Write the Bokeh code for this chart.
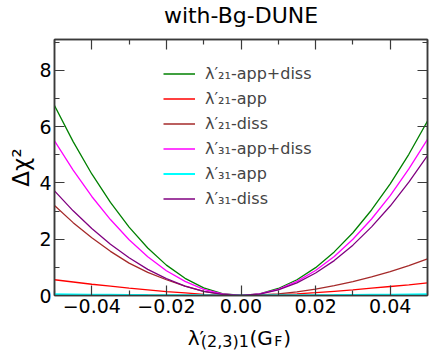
from bokeh.plotting import figure
from bokeh.layouts import column
from bokeh.models import (Range1d, FixedTicker, LinearAxis, Legend, LegendItem, Label,
                          CustomLabelingPolicy)
from bokeh.embed import file_html
from bokeh.resources import INLINE

# ---- data ----
x_vals = [-0.05, -0.045, -0.04, -0.035, -0.03, -0.025, -0.02, -0.015, -0.01, -0.005, 0.0,
          0.005, 0.01, 0.015, 0.02, 0.025, 0.03, 0.035, 0.04, 0.045, 0.05]
l21_app_diss = [6.75, 5.47, 4.32, 3.31, 2.43, 1.69, 1.08, 0.61, 0.27, 0.07, 0.0,
                0.06, 0.25, 0.56, 0.99, 1.55, 2.23, 3.04, 3.97, 5.02, 6.20]
l21_app = [0.56, 0.48, 0.40, 0.33, 0.26, 0.20, 0.14, 0.09, 0.04, 0.01, 0.0,
           0.01, 0.03, 0.06, 0.10, 0.15, 0.20, 0.26, 0.32, 0.38, 0.45]
l21_diss = [3.20, 2.59, 2.05, 1.57, 1.15, 0.82, 0.56, 0.33, 0.15, 0.04, 0.0,
            0.02, 0.06, 0.13, 0.23, 0.35, 0.49, 0.66, 0.85, 1.06, 1.30]
l31_app_diss = [5.50, 4.46, 3.52, 2.70, 1.98, 1.38, 0.88, 0.50, 0.22, 0.055, 0.0,
                0.056, 0.22, 0.50, 0.89, 1.39, 2.00, 2.72, 3.55, 4.50, 5.55]
l31_app = [0.04, 0.033, 0.026, 0.02, 0.015, 0.01, 0.006, 0.003, 0.002, 0.0, 0.0,
           0.0, 0.002, 0.003, 0.006, 0.01, 0.015, 0.02, 0.026, 0.033, 0.04]
l31_diss = [3.72, 3.01, 2.38, 1.82, 1.34, 0.93, 0.60, 0.33, 0.15, 0.04, 0.0,
            0.05, 0.20, 0.45, 0.80, 1.24, 1.79, 2.44, 3.18, 4.03, 4.97]

series_labels = ["λ′₂₁-app+diss", "λ′₂₁-app", "λ′₂₁-diss",
                 "λ′₃₁-app+diss", "λ′₃₁-app", "λ′₃₁-diss"]

x_major_ticks = [-0.04, -0.02, 0.0, 0.02, 0.04]
x_minor_ticks = [-0.05, -0.03, -0.01, 0.01, 0.03, 0.05]
x_tick_labels = ["−0.04", "−0.02", "0.00", "0.02", "0.04"]
y_major_ticks = [0, 2, 4, 6, 8]
y_minor_ticks = [1, 3, 5, 7, 9]
y_tick_labels = ["0", "2", "4", "6", "8"]

title_text = "with-Bg-DUNE"
ylabel_text = "Δχ²"
# x label  λ'_{(2,3)1}(G_F) as (text, is_subscript) pieces
xlabel_pieces = [("λ′", False), ("(2,3)1", True), ("(G", False), ("F", True), (")", False)]

FONT = "DejaVu Sans"
AX = "#3a3a3a"

p = figure(width=436, height=320, output_backend="svg", toolbar_location=None,
           x_range=Range1d(-0.05, 0.05), y_range=Range1d(0, 9.1),
           min_border_left=54, min_border_right=7, min_border_top=30, min_border_bottom=25)
p.background_fill_color = "white"
p.border_fill_color = "white"
p.outline_line_color = AX
p.outline_line_width = 1.5
p.grid.visible = False

p.title.text = title_text
p.title.text_font = FONT
p.title.text_font_size = "22px"
p.title.text_font_style = "normal"
p.title.text_color = "black"
p.title.align = "center"
p.title.standoff = 1


def style_axis(ax, labels=True):
    ax.axis_line_color = AX
    ax.axis_line_width = 1.5
    ax.major_tick_line_color = AX
    ax.minor_tick_line_color = AX
    ax.major_tick_line_width = 1.2
    ax.minor_tick_line_width = 1.2
    ax.major_tick_in = 10
    ax.major_tick_out = 0
    ax.minor_tick_in = 5
    ax.minor_tick_out = 0
    if labels:
        ax.major_label_text_font = FONT
        ax.major_label_text_font_size = "19px"
        ax.major_label_text_color = "black"
        ax.major_label_standoff = 3
    else:
        ax.major_label_standoff = 0
        ax.major_label_policy = CustomLabelingPolicy(
            code="for (const i of indices) { indices.unset(i) } return indices")


p.xaxis.ticker = FixedTicker(ticks=x_major_ticks, minor_ticks=x_minor_ticks)
p.yaxis.ticker = FixedTicker(ticks=y_major_ticks, minor_ticks=y_minor_ticks)
p.xaxis.major_label_overrides = dict(zip(x_major_ticks, x_tick_labels))
p.yaxis.major_label_overrides = dict(zip(y_major_ticks, y_tick_labels))
style_axis(p.xaxis[0])
style_axis(p.yaxis[0])
p.yaxis.axis_label = ylabel_text
p.yaxis.axis_label_text_font = FONT
p.yaxis.axis_label_text_font_size = "23px"
p.yaxis.axis_label_text_font_style = "normal"
p.yaxis.axis_label_text_color = "black"
p.yaxis.axis_label_standoff = 2
p.yaxis.major_label_orientation = "horizontal"

top_axis = LinearAxis(ticker=FixedTicker(ticks=x_major_ticks, minor_ticks=x_minor_ticks))
style_axis(top_axis, labels=False)
p.add_layout(top_axis, "above")
right_axis = LinearAxis(ticker=FixedTicker(ticks=y_major_ticks, minor_ticks=y_minor_ticks))
style_axis(right_axis, labels=False)
p.add_layout(right_axis, "right")

colors = ["green", "red", "brown", "magenta", "cyan", "purple"]
widths = [1.3, 1.3, 1.3, 1.3, 2.2, 1.3]
all_series = [l21_app_diss, l21_app, l21_diss, l31_app_diss, l31_app, l31_diss]
items = []
for ys, c, w, lab in zip(all_series, colors, widths, series_labels):
    r = p.line(x_vals, ys, line_color=c, line_width=w)
    items.append(LegendItem(label=lab, renderers=[r]))

legend = Legend(items=items, location=(109, 86), padding=0, margin=0, spacing=4,
                glyph_width=32, glyph_height=21, label_height=21, label_standoff=10,
                label_text_font=FONT, label_text_font_size="16px",
                background_fill_alpha=0, border_line_color=None)
p.add_layout(legend, "center")

# ---- x axis label strip below the chart; its frame is aligned with the chart's
# frame (page x 54..429), so its x range is expressed in page pixels ----
q = figure(width=436, height=34, output_backend="svg", toolbar_location=None,
           x_range=Range1d(54, 429), y_range=Range1d(0, 34),
           x_axis_type=None, y_axis_type=None,
           min_border_left=54, min_border_right=7, min_border_top=0, min_border_bottom=0)
q.outline_line_color = None
q.grid.visible = False
q.background_fill_color = "white"
q.border_fill_color = "white"

piece_x = [188, 201, 250, 275, 284]
for (t, sub), px in zip(xlabel_pieces, piece_x):
    q.add_layout(Label(x=px, y=13.5 if sub else 17, text=t, text_align="left",
                       text_baseline="alphabetic", text_font=FONT,
                       text_font_size=("16px" if t != "F" else "14px") if sub else "20px",
                       text_color="black"))

layout = column(p, q, spacing=0)
open("out.html", "w").write(file_html(layout, INLINE))
